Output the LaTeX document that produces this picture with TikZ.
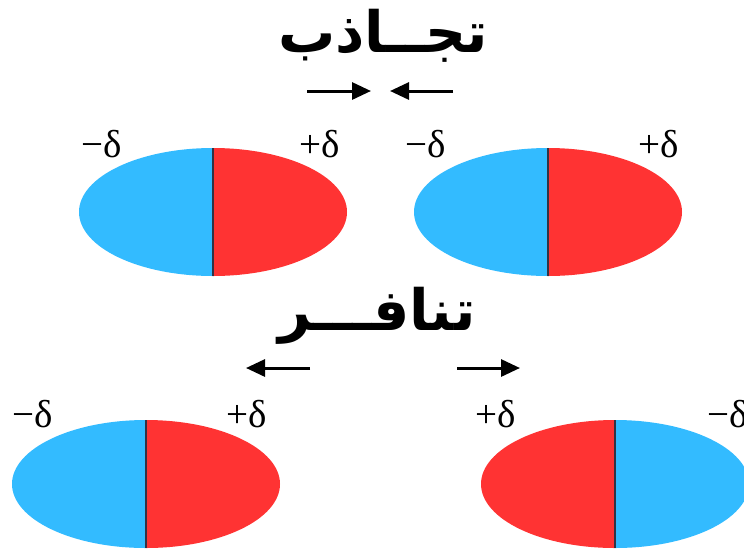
\documentclass[tikz,border=0pt]{standalone}
\usepackage{fontspec}
\TeXXeTstate=1
\newfontfamily\arabicfont[Script=Arabic]{DejaVu Sans}
\newfontfamily\deltafont{Liberation Serif}
\usetikzlibrary{arrows.meta}
\definecolor{molblue}{HTML}{33BBFF}
\definecolor{molred}{HTML}{FF3333}
\definecolor{divgray}{HTML}{333344}
\tikzset{
  charge/.style={font=\deltafont\fontsize{39}{39}\selectfont, inner sep=0pt},
  title/.style={font=\arabicfont\bfseries\fontsize{57}{57}\selectfont, inner sep=0pt},
  force/.style={line width=3pt, -{Triangle[length=19pt,width=17pt]}},
  divline/.style={draw=divgray, line width=1.6pt},
}
% #1 cx, #2 cy, #3 left colour, #4 right colour
\newcommand\moldipole[4]{%
  \begin{scope}
    \clip (#1-140,#2-70) rectangle (#1,#2+70);
    \fill[#3] (#1,#2) ellipse [x radius=134pt, y radius=64pt];
  \end{scope}
  \begin{scope}
    \clip (#1,#2-70) rectangle (#1+140,#2+70);
    \fill[#4] (#1,#2) ellipse [x radius=134pt, y radius=64pt];
  \end{scope}
  \draw[divline] (#1,#2-64) -- (#1,#2+64);
}
\begin{document}
\begin{tikzpicture}[x=1pt,y=-1pt]
\useasboundingbox (0,0) rectangle (744,555);
\fill[white] (0,0) rectangle (744,555);

% titles
\node[title] (attr) at (383,36) {\beginR تجــاذب\endR};
\node[title] (repl) at (377,316) {\beginR تنافـــر\endR};

% molecules
\moldipole{213}{212}{molblue}{molred}
\moldipole{548}{212}{molblue}{molred}
\moldipole{146}{484}{molblue}{molred}
\moldipole{615}{484}{molred}{molblue}

% charges
\node[charge] (c1) at (102,144) {−δ};
\node[charge] (c2) at (320,144) {+δ};
\node[charge] (c3) at (426,144) {−δ};
\node[charge] (c4) at (659,144) {+δ};
\node[charge] (c5) at (33,414) {−δ};
\node[charge] (c6) at (247,414) {+δ};
\node[charge] (c7) at (496,414) {+δ};
\node[charge] (c8) at (728,414) {−δ};

% arrows
\coordinate (a1s) at (307,91);
\coordinate (a1e) at (371,91);
\coordinate (a2s) at (453,91);
\coordinate (a2e) at (390,91);
\coordinate (b1s) at (310,368);
\coordinate (b1e) at (246,368);
\coordinate (b2s) at (457,368);
\coordinate (b2e) at (520,368);
\draw[force] (a1s) -- (a1e);
\draw[force] (a2s) -- (a2e);
\draw[force] (b1s) -- (b1e);
\draw[force] (b2s) -- (b2e);
\end{tikzpicture}
\end{document}
